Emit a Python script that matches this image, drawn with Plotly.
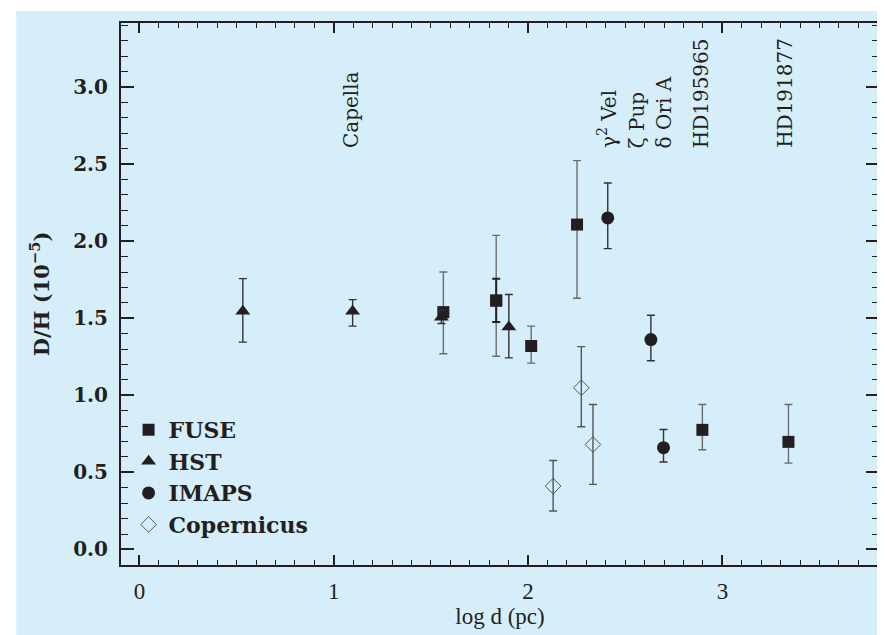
import plotly.graph_objects as go

# ---------------- data ----------------
fuse_x = [1.564, 1.836, 2.016, 2.252, 2.897, 3.340]
fuse_y = [1.540, 1.615, 1.320, 2.108, 0.776, 0.698]
fuse_hi = [1.800, 2.038, 1.449, 2.523, 0.940, 0.940]
fuse_lo = [1.270, 1.254, 1.209, 1.630, 0.647, 0.560]

# second (statistical) error bar on one FUSE point
fuse2_x = [1.836]
fuse2_y = [1.615]
fuse2_hi = [1.757]
fuse2_lo = [1.475]

hst_x = [0.532, 1.097, 1.554, 1.901]
hst_y = [1.546, 1.546, 1.507, 1.444]
hst_hi = [1.757, 1.621, 1.550, 1.654]
hst_lo = [1.345, 1.449, 1.466, 1.243]

imaps_x = [2.410, 2.632, 2.697]
imaps_y = [2.151, 1.362, 0.660]
imaps_hi = [2.378, 1.520, 0.778]
imaps_lo = [1.952, 1.224, 0.567]

cop_x = [2.129, 2.274, 2.334]
cop_y = [0.411, 1.049, 0.681]
cop_hi = [0.577, 1.316, 0.940]
cop_lo = [0.249, 0.796, 0.422]

star_names = ["Capella", "γ<sup>2</sup> Vel", "ζ Pup", "δ Ori A", "HD195965", "HD191877"]
star_x = [1.09, 2.41, 2.56, 2.70, 2.89, 3.325]
star_label_y = 2.59

x_ticks = [0, 1, 2, 3]
y_ticks = [0.0, 0.5, 1.0, 1.5, 2.0, 2.5, 3.0]

BG = "#d6eefa"
INK = "#231f20"
SERIF = "DejaVu Serif"
TIMES = "Liberation Serif"


def err(y, hi, lo):
    return [h - v for h, v in zip(hi, y)], [v - l for v, l in zip(y, lo)]


fig = go.Figure()

up, dn = err(fuse_y, fuse_hi, fuse_lo)
fig.add_trace(go.Scatter(
    x=fuse_x, y=fuse_y, mode="markers", name="FUSE",
    marker=dict(symbol="square", size=12, color=INK),
    error_y=dict(type="data", array=up, arrayminus=dn, color="#6b6b6b",
                 thickness=1.4, width=4),
))
up, dn = err(fuse2_y, fuse2_hi, fuse2_lo)
fig.add_trace(go.Scatter(
    x=fuse2_x, y=fuse2_y, mode="markers", name="FUSE", showlegend=False,
    marker=dict(symbol="square", size=12, color=INK),
    error_y=dict(type="data", array=up, arrayminus=dn, color=INK,
                 thickness=2, width=4),
))
up, dn = err(hst_y, hst_hi, hst_lo)
fig.add_trace(go.Scatter(
    x=hst_x, y=hst_y, mode="markers", name="HST",
    marker=dict(symbol="triangle-up", size=13, color=INK),
    error_y=dict(type="data", array=up, arrayminus=dn, color="#333333",
                 thickness=1.4, width=4),
))
up, dn = err(imaps_y, imaps_hi, imaps_lo)
fig.add_trace(go.Scatter(
    x=imaps_x, y=imaps_y, mode="markers", name="IMAPS",
    marker=dict(symbol="circle", size=13, color=INK),
    error_y=dict(type="data", array=up, arrayminus=dn, color="#333333",
                 thickness=1.4, width=4),
))
up, dn = err(cop_y, cop_hi, cop_lo)
fig.add_trace(go.Scatter(
    x=cop_x, y=cop_y, mode="markers", name="Copernicus",
    marker=dict(symbol="diamond-open", size=12, color="#555555",
                line=dict(width=1, color="#555555")),
    error_y=dict(type="data", array=up, arrayminus=dn, color="#555555",
                 thickness=1.4, width=4),
))

for name, xv in zip(star_names, star_x):
    fig.add_annotation(x=xv, y=star_label_y, xref="x", yref="y", text=name,
                       textangle=-90, showarrow=False, xanchor="center",
                       yanchor="bottom",
                       font=dict(family=SERIF, size=20, color=INK))

axis_common = dict(
    showgrid=False, zeroline=False, showline=True, linecolor=INK,
    linewidth=2, mirror="ticks", ticks="inside", tickcolor=INK,
)

fig.update_xaxes(
    range=[-0.095, 3.806], tickvals=x_ticks, ticklen=10, tickwidth=1.6,
    ticklabelstandoff=4,
    tickfont=dict(family=TIMES, size=23, color=INK),
    title=dict(text="log d (pc)", standoff=0,
               font=dict(family=TIMES, size=23, color=INK)),
    minor=dict(dtick=0.1, ticks="inside", ticklen=5, tickwidth=1.2,
               tickcolor=INK),
    **axis_common,
)
fig.update_yaxes(
    range=[-0.101, 3.416], tickvals=y_ticks, tickformat=".1f",
    ticklen=13, tickwidth=1.6, ticklabelstandoff=7,
    tickfont=dict(family=SERIF, size=20, color=INK, weight="bold"),
    title=dict(text="D/H (10<sup>−5</sup>)", standoff=18,
               font=dict(family=SERIF, size=21, color=INK, weight="bold")),
    minor=dict(dtick=0.1, ticks="inside", ticklen=7, tickwidth=1.2,
               tickcolor=INK),
    **axis_common,
)

# light-blue page with a thin white edge on the left and top
fig.add_shape(type="rect", xref="paper", yref="paper",
              x0=-0.1382, x1=1.03, y0=-0.16, y1=1.0221,
              fillcolor=BG, line=dict(width=0), layer="below")

fig.update_layout(
    width=885, height=635,
    margin=dict(l=113, r=12, t=15, b=78),
    paper_bgcolor="white", plot_bgcolor=BG,
    showlegend=True,
    legend=dict(x=0.01, y=0.288, xanchor="left", yanchor="top",
                bgcolor="rgba(0,0,0,0)", itemwidth=30,
                font=dict(family=SERIF, size=22, color=INK, weight="bold"),
                tracegroupgap=0),
)

fig.write_html("out.html")
